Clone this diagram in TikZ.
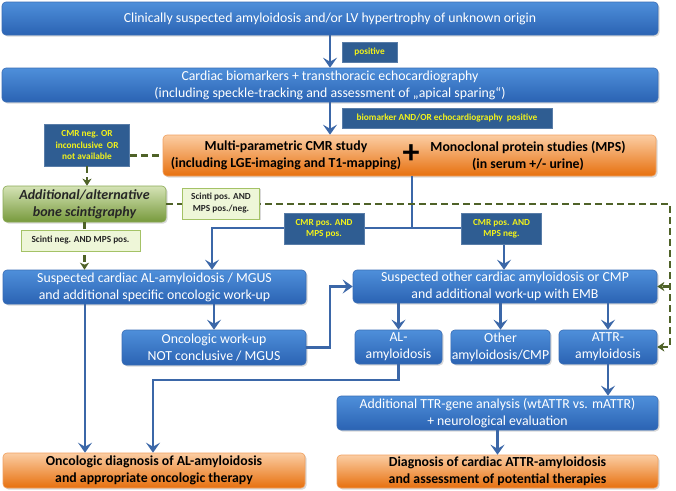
\documentclass[tikz,border=0pt]{standalone}
\usepackage{fontspec}
\setmainfont{Carlito}
\usetikzlibrary{arrows.meta,shadows}
\definecolor{bT}{HTML}{4E8FDA}
\definecolor{bB}{HTML}{2B63B3}
\definecolor{bD}{HTML}{3A6DB5}
\definecolor{oT}{HTML}{FBCDA3}
\definecolor{oB}{HTML}{E7700E}
\definecolor{oD}{HTML}{F0A060}
\definecolor{gT}{HTML}{D5E3B6}
\definecolor{gB}{HTML}{779A3C}
\definecolor{gD}{HTML}{8AAA55}
\definecolor{lD}{HTML}{2F5D92}
\definecolor{lY}{HTML}{F2F21A}
\definecolor{glF}{HTML}{EEF6D8}
\definecolor{glD}{HTML}{A4C266}
\definecolor{aC}{HTML}{3B67A8}
\definecolor{dC}{HTML}{4F6228}
\begin{document}
\begin{tikzpicture}[x=1pt,y=-1pt,
  box/.style={rounded corners=4pt, align=center, inner sep=1pt,
    drop shadow={shadow xshift=1.5pt,shadow yshift=-1.5pt,opacity=0.3}},
  bluebox/.style={box, top color=bT, bottom color=bB, draw=bD, line width=0.6pt,
    text=white, font=\fontsize{13.8}{17}\selectfont},
  orangebox/.style={box, top color=oT, bottom color=oB, draw=oD, line width=0.6pt,
    text=black, font=\bfseries\fontsize{13.8}{17}\selectfont},
  greenbox/.style={box, top color=gT, bottom color=gB, draw=gD, line width=0.6pt,
    text=black!85, font=\bfseries\itshape\fontsize{14}{17}\selectfont},
  darklab/.style={fill=lD, draw=lD!80!white, line width=0.5pt, text=lY, align=center, inner sep=1pt,
    font=\bfseries\fontsize{9.3}{11.5}\selectfont},
  greenlab/.style={fill=glF, draw=glD, line width=0.8pt, text=black!85, align=center, inner sep=1pt,
    font=\bfseries\fontsize{9.3}{12}\selectfont,
    drop shadow={shadow xshift=1pt,shadow yshift=-1pt,opacity=0.3}},
  plain/.style={align=center, inner sep=0pt, font=\bfseries\fontsize{13.8}{17}\selectfont},
  conn/.style={draw=aC, line width=2.6pt},
  arr/.style={conn, -{Stealth[length=10pt,width=14pt,inset=4pt]}},
  dashl/.style={draw=dC, line width=2.4pt, dash pattern=on 7pt off 4pt},
  dasharr/.style={dashl, -{Stealth[length=7pt,width=9pt,inset=2pt]}}
]
\useasboundingbox (0,0) rectangle (676,490);

% main boxes
\node[bluebox, minimum width=656, minimum height=33] (top) at (330,18.5)
  {Clinically suspected amyloidosis and/or LV hypertrophy of unknown origin};
\node[bluebox, minimum width=656, minimum height=34] (bio) at (330,85)
  {Cardiac biomarkers + transthoracic echocardiography\\(including speckle-tracking and assessment of „apical sparing“)};
\node[orangebox, minimum width=493, minimum height=41] (cmr) at (409.5,155.5) {};
\node[plain] (cmrL) at (286,155.5) {Multi-parametric CMR study\\(including LGE-imaging and T1-mapping)};
\node[plain] (cmrR) at (528,155.5) {Monoclonal protein studies (MPS)\\(in serum +/- urine)};
\node[inner sep=0pt, font=\bfseries\fontsize{34}{34}\selectfont] (plus) at (411,154) {+};

\node[greenbox, minimum width=163, minimum height=36] (green) at (84.5,204)
  {Additional/alternative\\bone scintigraphy};

\node[bluebox, minimum width=303, minimum height=34] (sal) at (154.5,287)
  {Suspected cardiac AL-amyloidosis / MGUS\\and additional specific oncologic work-up};
\node[bluebox, minimum width=184, minimum height=35] (onc) at (214,347.5)
  {Oncologic work-up\\NOT conclusive / MGUS};
\node[bluebox, minimum width=304, minimum height=33] (sother) at (505,286.5)
  {Suspected other cardiac amyloidosis or CMP\\and additional work-up with EMB};
\node[bluebox, minimum width=87, minimum height=34] (al) at (398.5,347) {AL-\\amyloidosis};
\node[bluebox, minimum width=99, minimum height=34] (other) at (500.5,347) {Other\\amyloidosis/CMP};
\node[bluebox, minimum width=98, minimum height=34] (attr) at (608,347) {ATTR-\\amyloidosis};
\node[bluebox, minimum width=321, minimum height=34] (ttr) at (497.5,413)
  {Additional TTR-gene analysis (wtATTR vs. mATTR)\\+ neurological evaluation};
\node[orangebox, minimum width=302, minimum height=35] (odiag) at (154,470.5)
  {Oncologic diagnosis of AL-amyloidosis\\and appropriate oncologic therapy};
\node[orangebox, minimum width=321, minimum height=33] (adiag) at (497.5,471.5)
  {Diagnosis of cardiac ATTR-amyloidosis\\and assessment of potential therapies};

% helper coordinates
\coordinate (dr) at (670,0);
\coordinate (j) at (412,228);
\coordinate (jl) at (212,228);
\coordinate (jr) at (504,228);
\coordinate (xa) at (85,0);
\coordinate (xb) at (330,0);
\coordinate (xc) at (153,0);
\coordinate (yc) at (0,380);

% solid connectors
\draw[arr] (top) -- (bio);
\draw[arr] (bio.south) -- (bio.south |- cmr.north);
\draw[conn] (cmr.south -| j) -- (j);
\draw[arr] (j) -- (jl) -- (jl |- sal.north);
\draw[arr] (j) -- (jr) -- (jr |- sother.north);
\draw[arr] (onc.north |- sal.south) -- (onc.north);
\draw[arr] (sal.south -| xa) -- (xa |- odiag.north);
\draw[arr] (onc.east) -- (onc.east -| xb) -- (xb |- sother.west) -- (sother.west);
\draw[arr] (sother.south -| al.north) -- (al.north);
\draw[arr] (sother.south -| other.north) -- (other.north);
\draw[arr] (sother.south -| attr.north) -- (attr.north);
\draw[arr] (al.south) -- (al.south |- yc) -- (xc |- yc) -- (xc |- odiag.north);
\draw[arr] (attr.south) -- (attr.south |- ttr.north);
\draw[arr] (ttr) -- (adiag);

% labels
\node[darklab, minimum width=55, minimum height=20] (lpos) at (369.5,52) {positive};
\node[darklab, minimum width=210, minimum height=20] (lbio) at (447,118)
  {biomarker AND/OR echocardiography\ \ positive};
\node[darklab, minimum width=85, minimum height=42] (lneg) at (87,145)
  {CMR neg. OR\\inconclusive\ \ OR\\not available};
\node[darklab, minimum width=80, minimum height=31] (lpp) at (324,228.5) {CMR pos. AND\\MPS pos.};
\node[darklab, minimum width=80, minimum height=31] (lpn) at (501.5,228.5) {CMR pos. AND\\MPS neg.};

% dashed connectors
\draw[dashl] (lneg.east |- cmr.west) -- (cmr.west);
\draw[dasharr] (lneg.south) -- (lneg.south |- green.north);
\draw[dasharr] (green.east) -- (green.east -| dr) -- (dr |- attr.east) -- (attr.east);
\draw[dasharr] (dr |- sother.east) -- (sother.east);
\draw[dasharr] (green.south) -- (green.south |- sal.north);

\node[greenlab, minimum width=77, minimum height=31] (lsp) at (221,203.5) {Scinti pos. AND\\MPS pos./neg.};
\node[greenlab, minimum width=119, minimum height=21] (lsn) at (80.5,240.5) {Scinti neg. AND MPS pos.};
\end{tikzpicture}
\end{document}
